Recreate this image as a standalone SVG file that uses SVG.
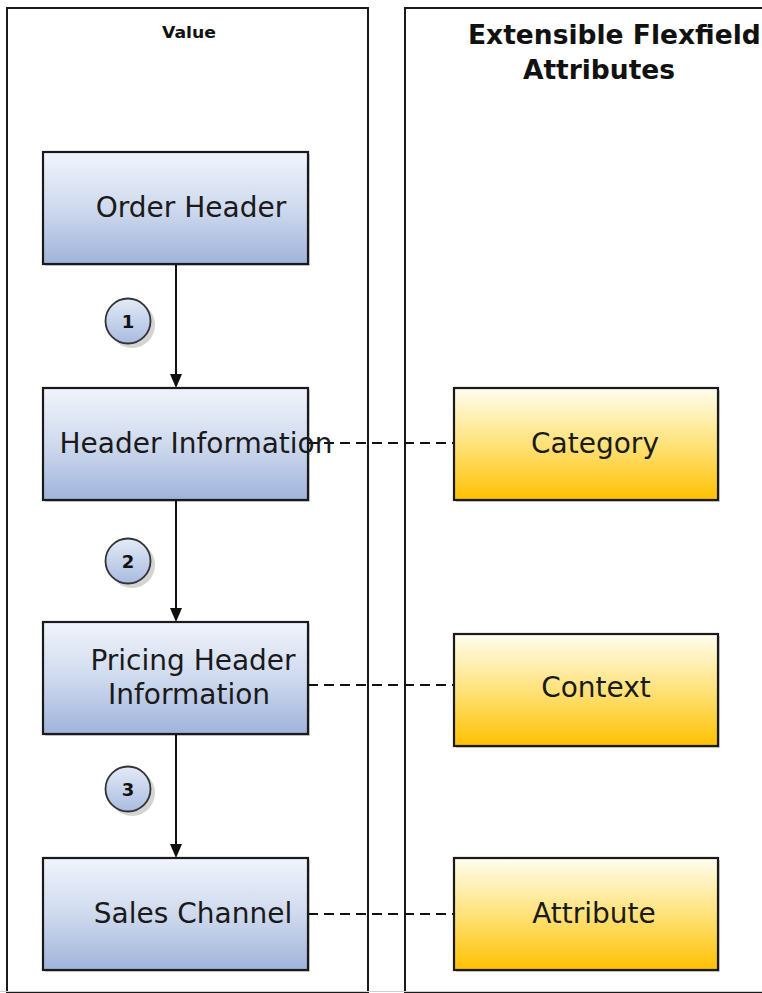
<svg xmlns="http://www.w3.org/2000/svg" width="762" height="993" viewBox="0 0 762 993">
  <style>
    .lane { fill: #ffffff; stroke: #1a1a1a; stroke-width: 2; }
    .box { stroke: #1a1a1a; stroke-width: 2.2; }
    .blue { fill: url(#gBlue); }
    .gold { fill: url(#gGold); }
    .shadow { fill: #000000; opacity: 0.18; }
    .label { font-family: "DejaVu Sans", "Liberation Sans", sans-serif; font-size: 28px; fill: #1a1a1a; text-anchor: middle; }
    .title { font-family: "DejaVu Sans", "Liberation Sans", sans-serif; font-weight: bold; fill: #111111; }
    .num { font-family: "DejaVu Sans", "Liberation Sans", sans-serif; font-weight: bold; font-size: 18px; fill: #111111; text-anchor: middle; }
    .flow { stroke: #111111; stroke-width: 2; fill: none; }
    .dash { stroke: #111111; stroke-width: 2; fill: none; stroke-dasharray: 10 6; }
    .circ { fill: url(#gCirc); stroke: #333333; stroke-width: 1.8; }
    .cshadow { fill: #d4d4d4; }
  </style>
  <defs>
    <linearGradient id="gBlue" x1="0" y1="0" x2="0" y2="1">
      <stop offset="0" stop-color="#f1f4fb"/>
      <stop offset="0.5" stop-color="#cfdaee"/>
      <stop offset="1" stop-color="#a0b3da"/>
    </linearGradient>
    <linearGradient id="gGold" x1="0" y1="0" x2="0" y2="1">
      <stop offset="0" stop-color="#fffdf0"/>
      <stop offset="0.5" stop-color="#ffe27a"/>
      <stop offset="1" stop-color="#ffc000"/>
    </linearGradient>
    <linearGradient id="gCirc" x1="0" y1="0" x2="0" y2="1">
      <stop offset="0" stop-color="#e4ebf7"/>
      <stop offset="1" stop-color="#a8bbe0"/>
    </linearGradient>
  </defs>

  <g id="lanes">
    <rect class="lane" x="7" y="8" width="361" height="984"/>
    <rect class="lane" x="405" y="8" width="370" height="984"/>
    <line x1="0" y1="991.5" x2="762" y2="991.5" stroke="#d0d0d0" stroke-width="1"/>
    <text class="title" x="189" y="38" font-size="15" text-anchor="middle" textLength="54" lengthAdjust="spacingAndGlyphs">Value</text>
    <text class="title" x="468" y="44" font-size="26.5">Extensible Flexfield</text>
    <text class="title" x="599" y="79" font-size="26.5" text-anchor="middle">Attributes</text>
  </g>

  <g id="connectors">
    <line class="flow" x1="176" y1="264" x2="176" y2="374"/>
    <path d="M170,374 L182,374 L176,388 Z" fill="#111111"/>
    <line class="flow" x1="176" y1="500" x2="176" y2="608"/>
    <path d="M170,608 L182,608 L176,622 Z" fill="#111111"/>
    <line class="flow" x1="176" y1="734" x2="176" y2="844"/>
    <path d="M170,844 L182,844 L176,858 Z" fill="#111111"/>
    <line class="dash" x1="308" y1="443" x2="454" y2="443"/>
    <line class="dash" x1="308" y1="685" x2="454" y2="685"/>
    <line class="dash" x1="308" y1="914" x2="454" y2="914"/>
  </g>

  <g id="step1">
    <circle class="cshadow" cx="132" cy="325" r="23"/>
    <circle class="circ" cx="128" cy="321" r="22.5"/>
    <text class="num" x="128" y="328">1</text>
  </g>
  <g id="step2">
    <circle class="cshadow" cx="132" cy="565" r="23"/>
    <circle class="circ" cx="128" cy="561" r="22.5"/>
    <text class="num" x="128" y="568">2</text>
  </g>
  <g id="step3">
    <circle class="cshadow" cx="132" cy="793" r="23"/>
    <circle class="circ" cx="128" cy="789" r="22.5"/>
    <text class="num" x="128" y="796">3</text>
  </g>

  <g id="order-header">
    <rect class="shadow" x="45" y="154" width="265" height="112"/>
    <rect class="box blue" x="43" y="152" width="265" height="112"/>
    <text class="label" x="191" y="217">Order Header</text>
  </g>
  <g id="header-information">
    <rect class="shadow" x="45" y="390" width="265" height="112"/>
    <rect class="box blue" x="43" y="388" width="265" height="112"/>
    <text class="label" x="196" y="453">Header Information</text>
  </g>
  <g id="pricing-header-information">
    <rect class="shadow" x="45" y="624" width="265" height="112"/>
    <rect class="box blue" x="43" y="622" width="265" height="112"/>
    <text class="label" x="193" y="670">Pricing Header</text>
    <text class="label" x="189" y="704">Information</text>
  </g>
  <g id="sales-channel">
    <rect class="shadow" x="45" y="860" width="265" height="112"/>
    <rect class="box blue" x="43" y="858" width="265" height="112"/>
    <text class="label" x="193" y="923">Sales Channel</text>
  </g>
  <g id="category">
    <rect class="shadow" x="456" y="390" width="264" height="112"/>
    <rect class="box gold" x="454" y="388" width="264" height="112"/>
    <text class="label" x="595" y="453">Category</text>
  </g>
  <g id="context">
    <rect class="shadow" x="456" y="636" width="264" height="112"/>
    <rect class="box gold" x="454" y="634" width="264" height="112"/>
    <text class="label" x="596" y="697">Context</text>
  </g>
  <g id="attribute">
    <rect class="shadow" x="456" y="860" width="264" height="112"/>
    <rect class="box gold" x="454" y="858" width="264" height="112"/>
    <text class="label" x="594" y="923">Attribute</text>
  </g>
</svg>
